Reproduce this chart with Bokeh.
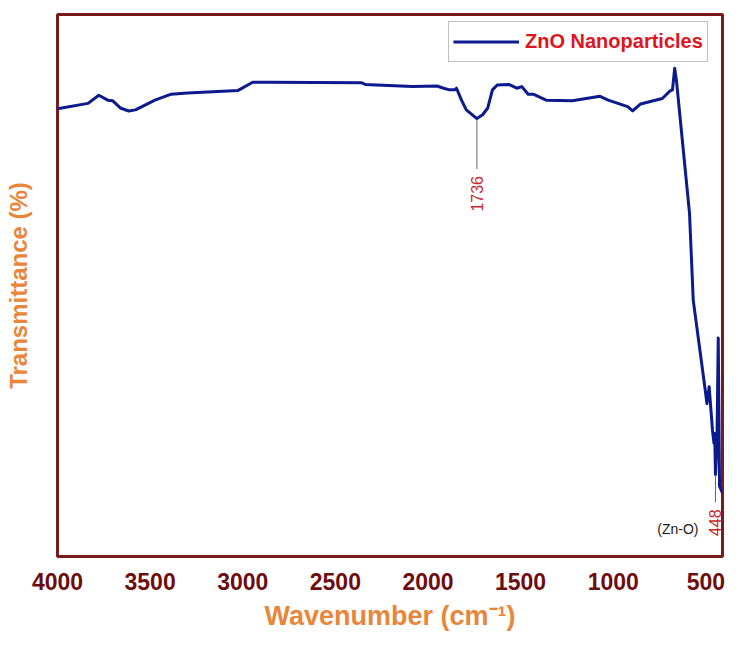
import numpy as np
from bokeh.plotting import figure
from bokeh.models import ColumnDataSource, Range1d, LinearAxis, FixedTicker
from bokeh.core.properties import value
from bokeh.embed import file_html
from bokeh.resources import INLINE

# ---- data ----
wavenumber = [4000, 3835, 3777, 3729, 3703, 3658, 3615, 3579, 3474, 3386, 3298,
              3025, 2946, 2860, 2358, 2338, 2277, 2083, 1951, 1916, 1883, 1855,
              1846, 1819, 1793, 1736, 1705, 1678, 1652, 1626, 1564, 1520, 1494,
              1459, 1432, 1362, 1221, 1071, 1027, 922, 895, 852, 735, 693, 680,
              668, 658, 588, 568, 502, 494, 482, 464, 456, 452, 448, 440, 433,
              426, 411]
transmittance = [82.6, 83.6, 85.1, 84.2, 84.1, 82.7, 82.2, 82.4, 84.2, 85.3, 85.5,
                 86.0, 87.5, 87.5, 87.4, 87.1, 87.0, 86.7, 86.8, 86.4, 86.1, 86.1,
                 86.4, 84.2, 82.4, 80.8, 81.5, 82.7, 86.1, 87.0, 87.1, 86.4, 86.7,
                 85.3, 85.3, 84.2, 84.1, 84.9, 84.2, 83.0, 82.2, 83.5, 84.5, 85.9, 86.1,
                 90.1, 87.6, 63.3, 47.3, 30.4, 28.2, 31.3, 23.3, 20.9, 22.7, 15.1, 20.9, 40.3,
                 13.0, 11.8]
x_ticks = [4000, 3500, 3000, 2500, 2000, 1500, 1000, 500]
series_name = "ZnO Nanoparticles"
x_title = "Wavenumber (cm\u207b\u00b9)"
y_title = "Transmittance (%)"
peak_wn = [1736, 448]
peak_labels = ["1736", "448"]
bond_label = ["(Zn-O)"]

# ---- styles ----
LINE_C = "#0b1a8c"
FRAME_C = "#7a1b1b"
TICK_C = "#6e0d10"
TITLE_C = "#e8863a"
RED = "#e0141e"
ANN_C = "#c8282e"
FONT = "Liberation Sans"

lookup = dict(zip(wavenumber, transmittance))
peak_T = [lookup[w] for w in peak_wn]
leader_gap = [0.2, 0.0]
leader_len = [9.1, 5.1]
text_gap = [1.3, 1.3]

p = figure(width=725, height=635, x_range=Range1d(4000, 410), y_range=Range1d(0, 100),
           output_backend="svg", toolbar_location=None, y_axis_location=None,
           min_border_left=57, min_border_right=3, min_border_top=14, min_border_bottom=79)
p.background_fill_color = "white"
p.border_fill_color = "white"
p.outline_line_color = FRAME_C
p.outline_line_width = 3
p.outline_line_alpha = 1
p.xgrid.visible = False
p.ygrid.visible = False

src = ColumnDataSource(dict(wn=wavenumber, T=transmittance))
p.line(x="wn", y="T", source=src, line_color=LINE_C, line_width=3, line_join="round",
       legend_label=series_name)

# annotations
lead_top = [t - g for t, g in zip(peak_T, leader_gap)]
lead_bot = [t - l for t, l in zip(lead_top, leader_len)]
p.segment(x0=peak_wn, y0=lead_top, x1=peak_wn, y1=lead_bot, line_color="#666666", line_width=1)
ann = ColumnDataSource(dict(x=peak_wn, y=[b - g for b, g in zip(lead_bot, text_gap)], text=peak_labels))
p.text(x="x", y="y", text="text", source=ann, angle=np.pi / 2, text_align="right",
       text_baseline="middle", text_font=value(FONT), text_font_size="16px", text_color=ANN_C)
zn = ColumnDataSource(dict(x=[peak_wn[1]], y=[lead_bot[1] - 5.0], text=bond_label))
p.text(x="x", y="y", text="text", source=zn, x_offset=-17, text_align="right",
       text_baseline="middle", text_font=value(FONT), text_font_size="14px", text_color="#1a1a1a")

# x axis
ax = p.xaxis[0]
ax.ticker = FixedTicker(ticks=x_ticks)
ax.axis_line_color = None
ax.major_tick_line_color = None
ax.minor_tick_line_color = None
ax.major_label_text_font = FONT
ax.major_label_text_font_size = "23px"
ax.major_label_text_font_style = "bold"
ax.major_label_text_color = TICK_C
ax.major_label_standoff = 10
ax.axis_label = x_title
ax.axis_label_text_font = FONT
ax.axis_label_text_font_size = "27px"
ax.axis_label_text_font_style = "bold"
ax.axis_label_text_color = TITLE_C
ax.axis_label_standoff = 8

# y axis: title only, no ticks
yax = LinearAxis(ticker=FixedTicker(ticks=[]), axis_line_color=None,
                 major_tick_line_color=None, minor_tick_line_color=None,
                 major_tick_out=0, minor_tick_out=0, major_label_standoff=0,
                 axis_label=y_title, axis_label_standoff=26,
                 axis_label_text_font=FONT, axis_label_text_font_size="24px",
                 axis_label_text_font_style="bold", axis_label_text_color=TITLE_C)
p.add_layout(yax, "left")

# legend
lg = p.legend[0]
lg.location = (391, 494)
lg.margin = 0
lg.padding = 4
lg.spacing = 0
lg.glyph_width = 66
lg.glyph_height = 31
lg.label_standoff = 6
lg.label_text_font = FONT
lg.label_text_font_size = "20px"
lg.label_text_font_style = "bold"
lg.label_text_color = RED
lg.border_line_color = "#808080"
lg.border_line_width = 1
lg.background_fill_alpha = 1

open("out.html", "w").write(file_html(p, INLINE))
